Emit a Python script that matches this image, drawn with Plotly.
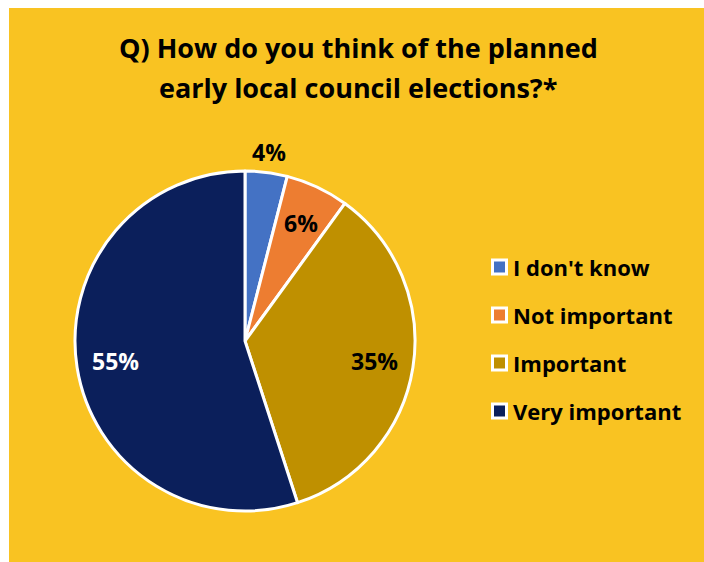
import math
import plotly.graph_objects as go

# Survey answers, clockwise from 12 o'clock
categories = ["I don't know", "Not important", "Important", "Very important"]
shares = [4, 6, 35, 55]
slice_colors = ["#4472C4", "#ED7D31", "#BF9000", "#0B1F5B"]
label_colors = ["#000000", "#000000", "#000000", "#FFFFFF"]
label_inside = [False, True, True, True]

title_lines = ["Q) How do you think of the planned", "early local council elections?*"]

W, H = 704, 562
BG = "#F9C322"
FONT = "Open Sans"

# pie geometry in pixels
CX, CY, R = 245, 341, 170


def px_x(x):
    return x / W


def px_y(y):
    return 1 - y / H


fig = go.Figure()

fig.add_trace(go.Pie(
    labels=categories,
    values=shares,
    sort=False,
    direction="clockwise",
    rotation=0,
    marker=dict(colors=slice_colors, line=dict(color="white", width=3)),
    textinfo="none",
    domain=dict(x=[px_x(CX - R), px_x(CX + R)], y=[px_y(CY + R), px_y(CY - R)]),
    showlegend=False,
    hoverinfo="label+percent",
))

shapes = [
    # white frame strips on the left and top edges
    dict(type="rect", xref="paper", yref="paper", x0=0, x1=px_x(9), y0=0, y1=1,
         fillcolor="white", line=dict(width=0), layer="below"),
    dict(type="rect", xref="paper", yref="paper", x0=0, x1=1, y0=px_y(8), y1=1,
         fillcolor="white", line=dict(width=0), layer="below"),
]
annotations = []

# Percentage labels placed along each slice's mid-angle
total = sum(shares)
cum = 0
for val, col, inside in zip(shares, label_colors, label_inside):
    mid = (cum + val / 2) / total * 2 * math.pi
    cum += val
    rf = 0.77 if inside else 1.12
    lx = CX + rf * R * math.sin(mid)
    ly = CY - rf * R * math.cos(mid)
    annotations.append(dict(
        xref="paper", yref="paper", x=px_x(lx), y=px_y(ly),
        xanchor="center", yanchor="middle", showarrow=False,
        text=f"{round(val / total * 100)}%",
        font=dict(family=FONT, size=23, color=col, weight="bold"),
    ))

# Legend: square swatch + bold label per category
legend_x, legend_y0, legend_step = 499.5, 267, 48
for i, (name, col) in enumerate(zip(categories, slice_colors)):
    cy = legend_y0 + i * legend_step
    shapes.append(dict(
        type="rect", xref="paper", yref="paper",
        x0=px_x(legend_x - 7), x1=px_x(legend_x + 7),
        y0=px_y(cy + 7), y1=px_y(cy - 7),
        fillcolor=col, line=dict(color="white", width=3),
    ))
    annotations.append(dict(
        xref="paper", yref="paper", x=px_x(511), y=px_y(cy),
        xanchor="left", yanchor="middle", showarrow=False,
        text=name, font=dict(family=FONT, size=22, color="#000000", weight="bold"),
    ))

# Two-line title
for line, ty in zip(title_lines, [47, 87]):
    annotations.append(dict(
        xref="paper", yref="paper", x=px_x(358), y=px_y(ty),
        xanchor="center", yanchor="middle", showarrow=False,
        text=line, font=dict(family=FONT, size=27, color="#000000", weight="bold"),
    ))

fig.update_layout(
    width=W, height=H,
    margin=dict(l=0, r=0, t=0, b=0),
    paper_bgcolor=BG,
    plot_bgcolor=BG,
    shapes=shapes,
    annotations=annotations,
    showlegend=False,
)

fig.write_html("out.html")
